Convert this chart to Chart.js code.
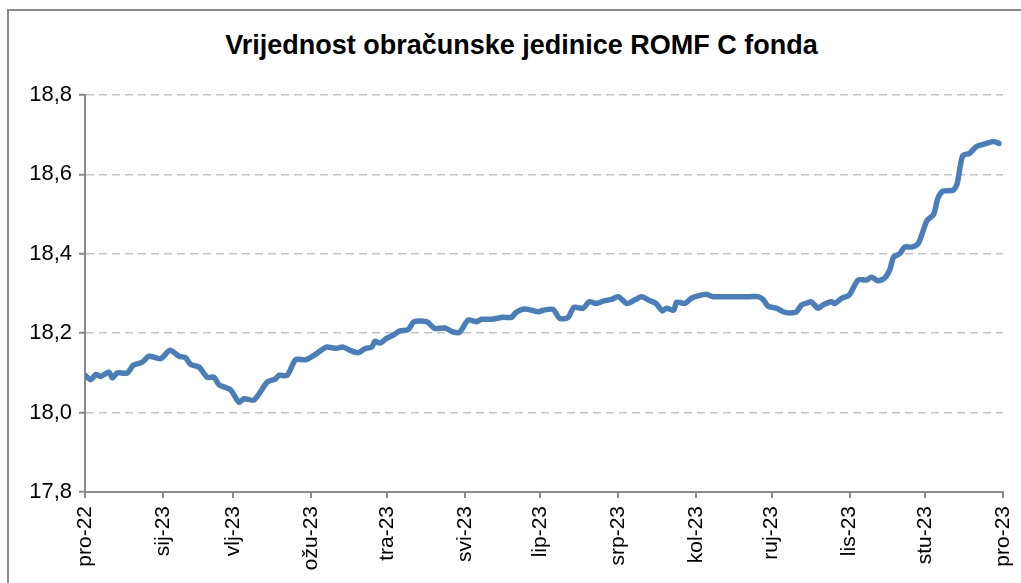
<!DOCTYPE html>
<html lang="hr">
<head>
<meta charset="UTF-8">
<title>ROMF C fond</title>
<script src="https://cdn.jsdelivr.net/npm/chart.js"></script>
<style>
  body { margin: 0; background: #fff; }
  #wrap { position: relative; width: 1021px; height: 583px; overflow: hidden; }
  #frame { position: absolute; left: 7px; top: 9px; width: 1100px; height: 700px;
           border-top: 2px solid #8a8a8a; border-left: 2px solid #8a8a8a; }
  #title { position: absolute; left: 0; top: 29px; width: 1043px; text-align: center;
           font: bold 27px 'Liberation Sans', Arial, sans-serif; line-height: 32px; color: #000; }
  canvas { position: absolute; left: 0; top: 0; }
</style>
</head>
<body>
<div id="wrap">
  <div id="frame"></div>
  <div id="title">Vrijednost obračunske jedinice ROMF C fonda</div>
  <canvas id="c" width="1021" height="583"></canvas>
</div>
<script>
// mjesečne oznake na osi x (dan od 1.12.2022.)
const monthLabels = ['pro-22', 'sij-23', 'vlj-23', 'ožu-23', 'tra-23', 'svi-23', 'lip-23',
                     'srp-23', 'kol-23', 'ruj-23', 'lis-23', 'stu-23', 'pro-23'];
const monthDays = [0, 31, 59, 90, 120, 151, 181, 212, 243, 273, 304, 334, 365];

// dan i vrijednost obračunske jedinice (očitano s grafa)
const days = [0, 2.3, 4.3, 6.2, 9.5, 10.9, 12.8, 16.8, 19.2, 22.8, 25.4, 30.1, 33.8, 37.4, 40.0,
  42.0, 45.3, 48.6, 51.3, 53.3, 57.9, 61.2, 63.2, 67.2, 72.5, 75.8, 77.1, 80.4, 83.7, 87.7,
  91.0, 94.3, 96.1, 100.0, 102.7, 105.3, 108.6, 111.3, 114.0, 115.3, 117.2, 119.9, 122.5,
  125.2, 128.5, 130.8, 135.8, 139.1, 143.1, 146.4, 149.0, 152.3, 155.7, 157.7, 161.6, 166.3,
  169.6, 171.3, 174.9, 180.2, 182.2, 186.1, 188.8, 192.1, 194.4, 198.1, 200.4, 203.4, 206.7,
  209.3, 212.0, 215.5, 218.6, 221.3, 224.6, 227.0, 229.6, 231.2, 234.1, 235.2, 238.5, 241.1,
  243.8, 247.1, 249.7, 256.4, 264.3, 267.6, 269.6, 271.6, 274.9, 277.5, 280.2, 282.9, 284.9,
  287.5, 288.8, 291.5, 293.4, 296.8, 298.1, 300.8, 303.8, 307.4, 310.7, 312.7, 315.3, 318.0,
  320.0, 321.5, 323.9, 325.9, 328.6, 331.2, 333.2, 334.8, 337.4, 339.2, 341.2, 345.1, 346.7,
  348.0, 349.1, 351.7, 354.4, 358.4, 361.3, 363.4];
const values = [18.094, 18.083, 18.096, 18.091, 18.102, 18.087, 18.100, 18.100, 18.119, 18.127,
  18.142, 18.136, 18.157, 18.142, 18.138, 18.121, 18.115, 18.089, 18.089, 18.070, 18.057,
  18.026, 18.035, 18.032, 18.077, 18.085, 18.094, 18.094, 18.133, 18.133, 18.144, 18.159,
  18.165, 18.162, 18.165, 18.157, 18.151, 18.161, 18.165, 18.180, 18.175, 18.187, 18.195,
  18.206, 18.209, 18.229, 18.229, 18.212, 18.213, 18.203, 18.203, 18.233, 18.229, 18.235,
  18.235, 18.240, 18.240, 18.252, 18.261, 18.254, 18.258, 18.260, 18.237, 18.240, 18.265,
  18.263, 18.279, 18.275, 18.282, 18.285, 18.292, 18.275, 18.284, 18.292, 18.282, 18.275,
  18.256, 18.263, 18.258, 18.278, 18.275, 18.288, 18.294, 18.298, 18.292, 18.292, 18.292,
  18.292, 18.285, 18.268, 18.263, 18.254, 18.251, 18.254, 18.271, 18.277, 18.279, 18.263,
  18.271, 18.279, 18.275, 18.288, 18.296, 18.334, 18.334, 18.341, 18.332, 18.339, 18.360,
  18.392, 18.400, 18.417, 18.417, 18.425, 18.457, 18.484, 18.499, 18.541, 18.558, 18.560,
  18.575, 18.621, 18.648, 18.653, 18.670, 18.678, 18.683, 18.678];

const yTicks = [17.8, 18.0, 18.2, 18.4, 18.6, 18.8];

const font = "'Liberation Sans', Arial, sans-serif";
const axisGrey = '#8a8a8a';

new Chart(document.getElementById('c'), {
  type: 'line',
  data: {
    datasets: [{
      data: days.map((d, i) => ({ x: d, y: values[i] })),
      borderColor: '#4a7ebb',
      borderWidth: 5.5,
      pointRadius: 0,
      tension: 0.25,
      borderCapStyle: 'round',
      borderJoinStyle: 'round'
    }]
  },
  options: {
    responsive: false,
    animation: false,
    layout: { padding: { top: 95, left: 0, right: 18, bottom: 0 } },
    plugins: {
      legend: { display: false },
      tooltip: { enabled: false }
    },
    scales: {
      x: {
        type: 'linear',
        min: monthDays[0],
        max: monthDays[monthDays.length - 1],
        afterBuildTicks: s => { s.ticks = monthDays.map(v => ({ value: v })); },
        afterFit: s => { s.height = 91; s.paddingLeft = 0; s.paddingRight = 0; },
        grid: { drawOnChartArea: false, drawTicks: true, tickLength: 6, color: axisGrey, lineWidth: 2 },
        border: { display: true, color: axisGrey, width: 2 },
        ticks: {
          autoSkip: false,
          minRotation: 90,
          maxRotation: 90,
          padding: 8,
          color: '#000',
          font: { family: font, size: 21 },
          callback: (v, i) => monthLabels[i]
        }
      },
      y: {
        min: yTicks[0],
        max: yTicks[yTicks.length - 1],
        afterBuildTicks: s => { s.ticks = yTicks.map(v => ({ value: v })); },
        afterFit: s => { s.width = 85; s.paddingTop = 0; s.paddingBottom = 0; },
        grid: { color: '#c4c4c4', lineWidth: 1.5, tickLength: 6, tickColor: axisGrey, tickWidth: 2, tickBorderDash: [] },
        border: { display: true, color: axisGrey, width: 2, dash: [8, 5] },
        ticks: {
          padding: 7,
          color: '#000',
          font: { family: font, size: 22 },
          callback: v => v.toFixed(1).replace('.', ',')
        }
      }
    }
  }
});
</script>
</body>
</html>
